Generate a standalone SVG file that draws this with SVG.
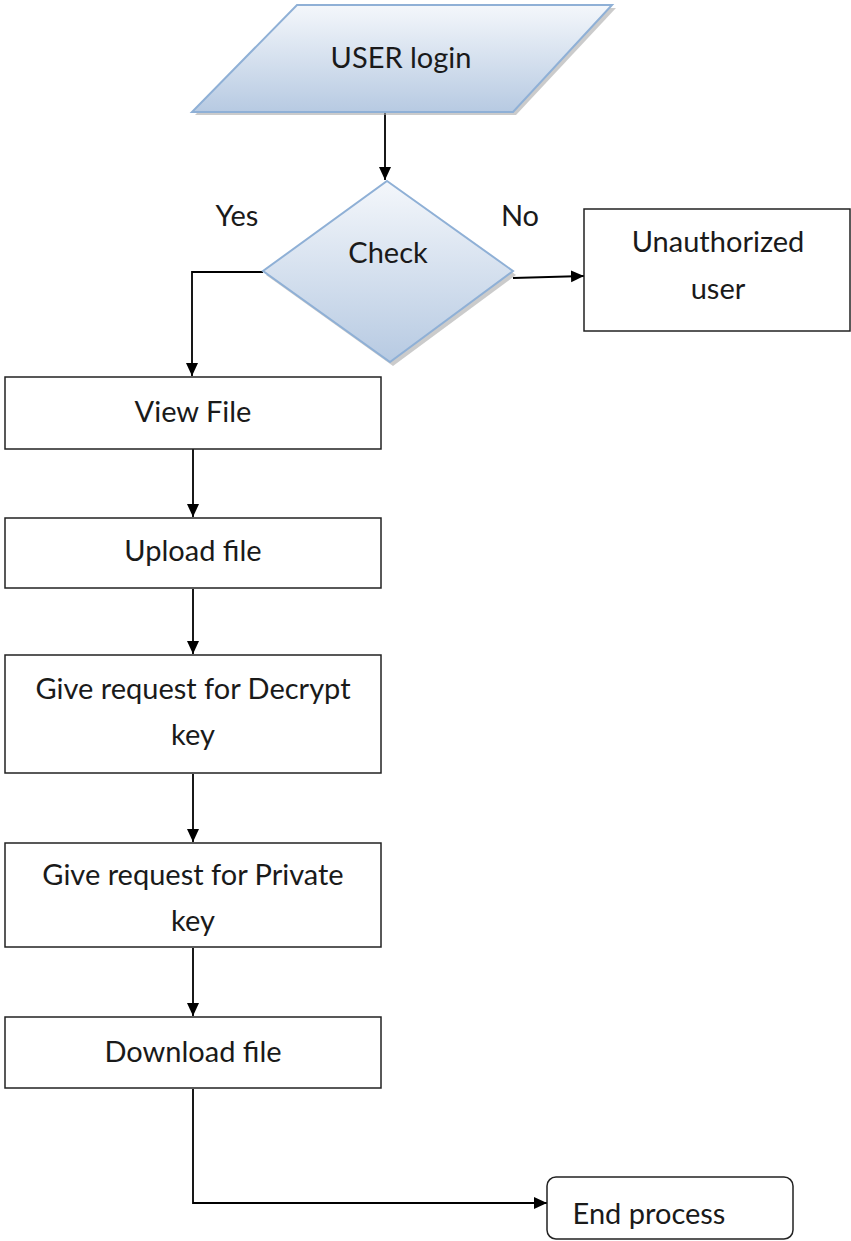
<svg xmlns="http://www.w3.org/2000/svg" width="851" height="1241" viewBox="0 0 851 1241">
<defs>
<linearGradient id="g" x1="0" y1="0" x2="0" y2="1">
<stop offset="0" stop-color="#f4f7fb"/>
<stop offset="1" stop-color="#b7cae2"/>
</linearGradient>
<marker id="ahd" markerWidth="14" markerHeight="14" refX="13" refY="7" orient="auto" markerUnits="userSpaceOnUse">
<path d="M0,1 L13,7 L0,13 Z" fill="#000"/>
</marker>
</defs>
<style>
.t{font-family:Lato,"Liberation Sans",sans-serif;font-size:29px;fill:#1a1a1a;text-anchor:middle}
.box{fill:#fff;stroke:#222;stroke-width:1.5}
.sh{fill:#a9a9a9;opacity:0.6}
.bl{fill:url(#g);stroke:#8fb0d6;stroke-width:2}
.c{fill:none;stroke:#000;stroke-width:1.8}
</style>
<g id="connectors">
<path class="c" d="M385,113 V180" marker-end="url(#ahd)"/>
<path class="c" d="M263,272 H192 V376" marker-end="url(#ahd)"/>
<path class="c" d="M513,278 L584,276" marker-end="url(#ahd)"/>
<path class="c" d="M193,449 V517" marker-end="url(#ahd)"/>
<path class="c" d="M193,589 V654" marker-end="url(#ahd)"/>
<path class="c" d="M193,774 V842" marker-end="url(#ahd)"/>
<path class="c" d="M193,948 V1016" marker-end="url(#ahd)"/>
<path class="c" d="M193,1089 V1203 H547" marker-end="url(#ahd)"/>
</g>
<g id="user-login">
<polygon class="sh" points="300,8 616,8 516,115 195,115"/>
<polygon class="bl" points="297,5 612,5 513,112 192,112"/>
<text class="t" x="401" y="68">USER login</text>
</g>
<g id="check">
<polygon class="sh" points="390,184 516,275 393,366 266,275"/>
<polygon class="bl" points="387,181 513,271 390,362 263,271"/>
<text class="t" x="388" y="263">Check</text>
</g>
<g id="label-yes"><text class="t" x="237" y="226">Yes</text></g>
<g id="label-no"><text class="t" x="520" y="226">No</text></g>
<g id="unauthorized">
<rect class="box" x="584" y="209" width="266" height="122"/>
<text class="t" x="718" y="252">Unauthorized</text>
<text class="t" x="718" y="299">user</text>
</g>
<g id="view-file">
<rect class="box" x="5" y="377" width="376" height="72"/>
<text class="t" x="193" y="422">View File</text>
</g>
<g id="upload-file">
<rect class="box" x="5" y="518" width="376" height="70"/>
<text class="t" x="193" y="561">Upload file</text>
</g>
<g id="decrypt-key">
<rect class="box" x="5" y="655" width="376" height="118"/>
<text class="t" x="193" y="699">Give request for Decrypt</text>
<text class="t" x="193" y="745">key</text>
</g>
<g id="private-key">
<rect class="box" x="5" y="843" width="376" height="104"/>
<text class="t" x="193" y="885">Give request for Private</text>
<text class="t" x="193" y="931">key</text>
</g>
<g id="download-file">
<rect class="box" x="5" y="1017" width="376" height="71"/>
<text class="t" x="193" y="1062">Download file</text>
</g>
<g id="end-process">
<rect class="box" x="547" y="1177" width="246" height="62" rx="9"/>
<text class="t" x="649" y="1224">End process</text>
</g>
</svg>
